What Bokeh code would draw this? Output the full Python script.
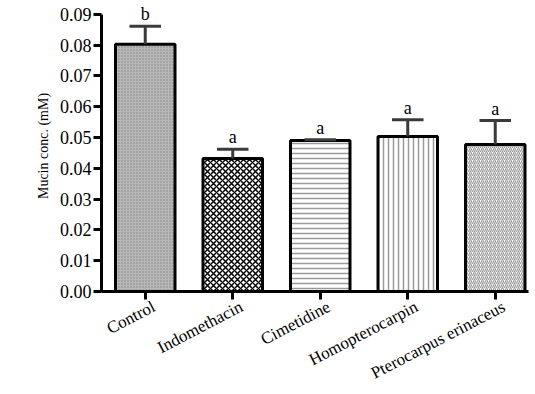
from bokeh.plotting import figure
from bokeh.models import Range1d, FixedTicker, ColumnDataSource, NumeralTickFormatter, LinearAxis, Label
from bokeh.embed import file_html
from bokeh.resources import INLINE

categories = ["Control", "Indomethacin", "Cimetidine", "Homopterocarpin", "Pterocarpus erinaceus"]
means = [0.0803, 0.0432, 0.0490, 0.0503, 0.0477]
errors = [0.0058, 0.0030, 0.0003, 0.0055, 0.0078]
letters = ["b", "a", "a", "a", "a"]
y_ticks = [0.00, 0.01, 0.02, 0.03, 0.04, 0.05, 0.06, 0.07, 0.08, 0.09]

FONT = "Liberation Serif"
xs = list(range(len(categories)))

p = figure(width=535, height=394, output_backend="svg", toolbar_location=None,
           x_range=Range1d(-0.5, 4.38), y_range=Range1d(0, 0.0945),
           min_border_left=101, min_border_right=7, min_border_top=0, min_border_bottom=101)
p.outline_line_color = None
p.xgrid.visible = False
p.ygrid.visible = False
p.background_fill_color = "white"

styles = [
    dict(fill_color="#b8b8b8", hatch_pattern="dot", hatch_color="#858585", hatch_scale=3, hatch_weight=1),
    dict(fill_color="white", hatch_pattern="diagonal_cross", hatch_color="black", hatch_scale=6, hatch_weight=1.5),
    dict(fill_color="white", hatch_pattern="horizontal_line", hatch_color="#9a9a9a", hatch_scale=5, hatch_weight=1.5),
    dict(fill_color="white", hatch_pattern="vertical_line", hatch_color="#9a9a9a", hatch_scale=5, hatch_weight=1.5),
    dict(fill_color="white", hatch_pattern="right_diagonal_line", hatch_color="#9a9a9a", hatch_scale=4, hatch_weight=1.2),
]
for i in xs:
    p.vbar(x=[i], top=[means[i]], bottom=0, width=0.68, line_color="black", line_width=3, **styles[i])

tops = [m + e for m, e in zip(means, errors)]
src = ColumnDataSource(dict(x=xs, m=means, t=tops, x0=[x - 0.18 for x in xs], x1=[x + 0.18 for x in xs]))
p.segment(x0="x", y0="m", x1="x", y1="t", source=src, line_color="#3a3a3a", line_width=3)
p.segment(x0="x0", y0="t", x1="x1", y1="t", source=src, line_color="#3a3a3a", line_width=3)

for i in xs:
    p.add_layout(Label(x=xs[i], y=tops[i], text=letters[i], text_align="center", text_baseline="bottom",
                       y_offset=2, text_font=FONT, text_font_size="18px", text_color="black"))

p.yaxis.ticker = FixedTicker(ticks=y_ticks)
p.yaxis.bounds = (0, 0.09)
p.yaxis.formatter = NumeralTickFormatter(format="0.00")
p.yaxis.axis_label = "Mucin conc. (mM)"
p.yaxis.axis_label_text_font = FONT
p.yaxis.axis_label_text_font_style = "normal"
p.yaxis.axis_label_text_font_size = "14px"
p.yaxis.axis_label_text_color = "black"
p.yaxis.axis_label_standoff = 6
p.yaxis.major_label_text_font = FONT
p.yaxis.major_label_text_font_size = "18px"
p.yaxis.major_label_text_color = "black"
p.yaxis.minor_tick_line_color = None
p.yaxis.major_tick_in = 0
p.yaxis.major_tick_out = 8
p.yaxis.major_label_standoff = 2

# main x axis: line and tick marks at the bar centres (its own labels are not drawn)
p.xaxis.ticker = FixedTicker(ticks=xs)
p.xaxis.major_label_text_color = None
p.xaxis.major_label_text_font_size = "1px"
p.xaxis.major_label_standoff = 0
p.xaxis.minor_tick_line_color = None
p.xaxis.major_tick_in = 0
p.xaxis.major_tick_out = 8

for ax in (p.xaxis, p.yaxis):
    ax.axis_line_width = 3
    ax.axis_line_color = "black"
    ax.major_tick_line_width = 3
    ax.major_tick_line_color = "black"

# label axis: category names, a little to the right of each tick
label_ticks = [x + 0.1 for x in xs]
lab_axis = LinearAxis(ticker=FixedTicker(ticks=label_ticks),
                      major_label_overrides={t: c for t, c in zip(label_ticks, categories)})
lab_axis.axis_line_color = None
lab_axis.major_tick_line_color = None
lab_axis.minor_tick_line_color = None
lab_axis.major_tick_out = 0
lab_axis.major_tick_in = 0
lab_axis.major_label_orientation = 0.48
lab_axis.major_label_text_font = FONT
lab_axis.major_label_text_font_size = "17px"
lab_axis.major_label_text_color = "black"
lab_axis.major_label_standoff = 6
p.add_layout(lab_axis, "below")

open("out.html", "w").write(file_html(p, INLINE))
